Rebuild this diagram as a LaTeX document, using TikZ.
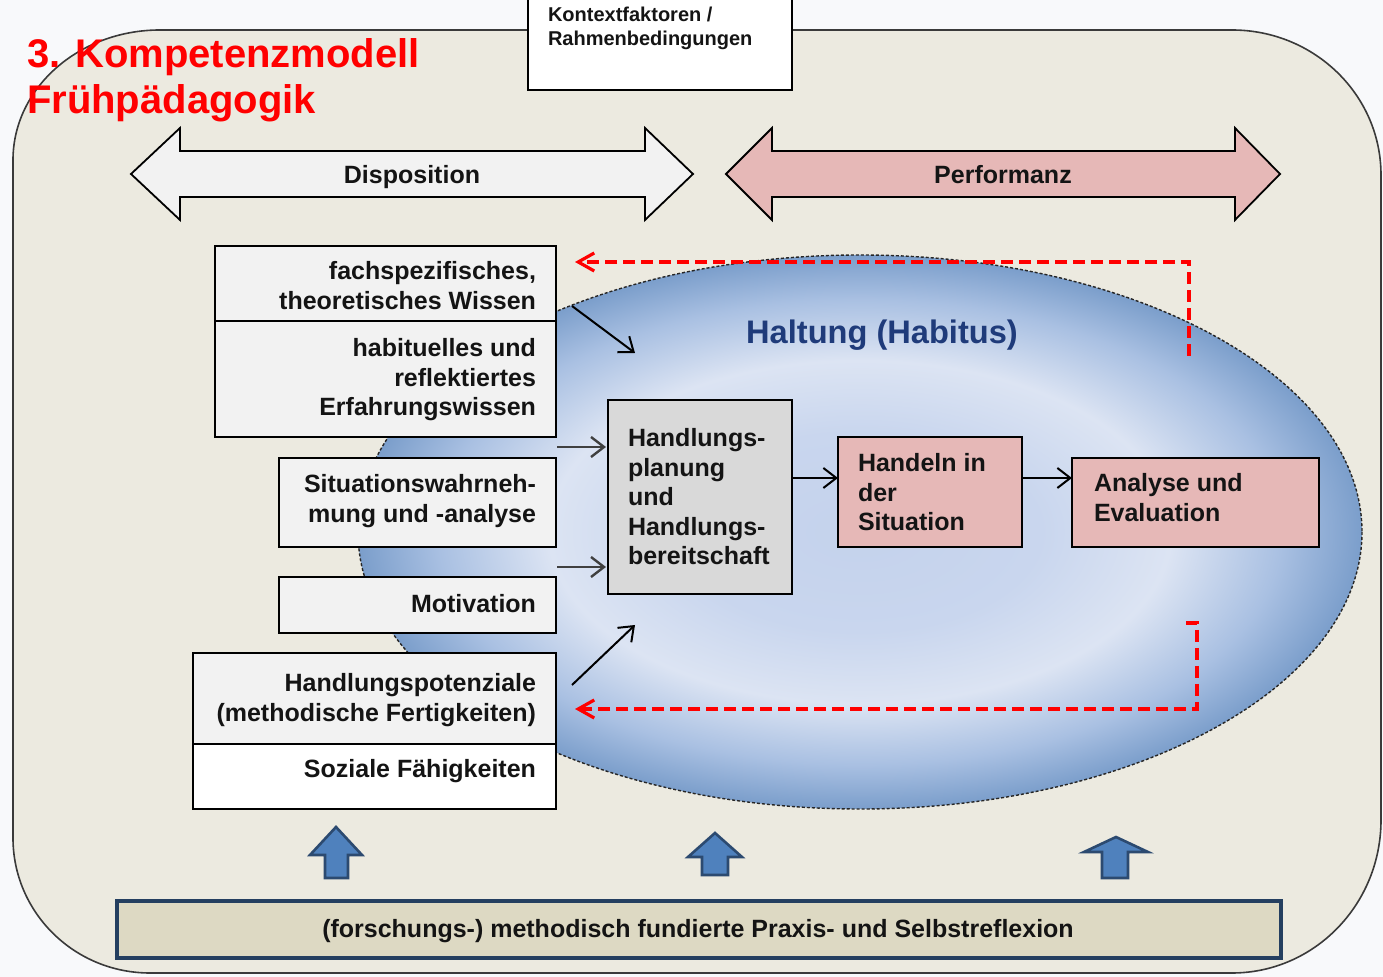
\documentclass[tikz,border=0pt]{standalone}
\usepackage{fontspec}
\setmainfont{Liberation Sans}
\usetikzlibrary{arrows.meta}

\definecolor{pagebg}{HTML}{F8F9FB}
\definecolor{panelfill}{HTML}{ECEAE0}
\definecolor{panelline}{HTML}{3A3A3A}
\definecolor{boxgray}{HTML}{F2F2F2}
\definecolor{midgray}{HTML}{D9D9D9}
\definecolor{rose}{HTML}{E6B8B7}
\definecolor{barfill}{HTML}{DDD9C3}
\definecolor{barline}{HTML}{243F60}
\definecolor{arrowblue}{HTML}{4F81BD}
\definecolor{arrowline}{HTML}{2C4A70}
\definecolor{navy}{HTML}{1F3B7A}
\definecolor{txtcol}{HTML}{141414}
\definecolor{arrgray}{HTML}{404040}
\definecolor{hcenter}{HTML}{C4D2EC}
\definecolor{hinner}{HTML}{C9D6EE}
\definecolor{hring}{HTML}{DCE4F3}
\definecolor{hmid}{HTML}{A9C0E2}
\definecolor{hdark}{HTML}{7B9ECB}

\pgfdeclareradialshading{habitus}{\pgfpoint{0bp}{0bp}}{color(0bp)=(hcenter); color(9bp)=(hinner); color(15.5bp)=(hring); color(21bp)=(hmid); color(25bp)=(hdark); color(50bp)=(hdark)}

\begin{document}
\begin{tikzpicture}[x=0.5pt,y=-0.5pt,
  every node/.style={inner sep=0pt, outer sep=0pt},
  body/.style={font=\fontsize{12.5}{14.75}\selectfont\bfseries, text=txtcol},
  lbox/.style={draw=black, line width=1pt, fill=boxgray, anchor=north west},
  dblarrow/.style={draw=black, line width=0.9pt, line join=miter},
  arr/.style={draw=black, line width=1pt, -{Straight Barb[length=6.5pt,width=10pt]}},
  garr/.style={draw=arrgray, line width=1.2pt, -{Straight Barb[length=6.5pt,width=10pt]}},
  feedback/.style={draw=red, line width=1.6pt, dash pattern=on 6pt off 3pt, -{Straight Barb[length=8pt,width=9pt]}},
  upblock/.style={fill=arrowblue, draw=arrowline, line width=1.3pt, line join=miter},
]
\useasboundingbox (0,0) rectangle (1383,977);
\fill[pagebg] (0,0) rectangle (1383,977);

% outer panel
\draw[fill=panelfill, draw=panelline, line width=0.8pt]
  (160,30) -- (1232,30)
  arc[start angle=-90, end angle=0, x radius=149, y radius=145]
  -- (1381,820)
  arc[start angle=0, end angle=90, x radius=149, y radius=153]
  -- (150,973)
  arc[start angle=90, end angle=180, x radius=137, y radius=135]
  -- (13,160)
  arc[start angle=180, end angle=270, x radius=147, y radius=130]
  -- cycle;

% context box
\node[draw=black, line width=1pt, fill=white, anchor=north west,
      minimum width=132pt, minimum height=50pt] (ctx) at (528,-10) {};
\node[font=\fontsize{10}{12}\selectfont\bfseries, text=txtcol, align=left, anchor=north west]
  (ctxt) at (548,6) {\rule{0pt}{8pt}Kontextfaktoren /\\Rahmenbedingungen};

% double arrows
\draw[dblarrow, fill=boxgray] (131,174) -- (180,128) -- (180,151) -- (645,151) -- (645,128)
  -- (693,174) -- (645,220) -- (645,197) -- (180,197) -- (180,220) -- cycle;
\node[body, anchor=base] (disp) at (412,184) {Disposition};
\draw[dblarrow, fill=rose] (726,174) -- (772,128) -- (772,151) -- (1235,151) -- (1235,128)
  -- (1280,174) -- (1235,220) -- (1235,197) -- (772,197) -- (772,220) -- cycle;
\node[body, anchor=base] (perf) at (1003,184) {Performanz};

% habitus ellipse
\path[shading=habitus] (860,532) ellipse[x radius=502, y radius=277];
\draw[draw=black!85, line width=0.7pt, dash pattern=on 1.5pt off 1pt] (860,532) ellipse[x radius=502, y radius=277];
\node[font=\fontsize{16.3}{19}\selectfont\bfseries, text=navy, anchor=base] (halt) at (882,344) {Haltung (Habitus)};

% title
\node[font=\fontsize{20}{23}\selectfont\bfseries, text=red, align=left, anchor=north west]
  (title) at (27,38) {\rule{0pt}{15pt}3. Kompetenzmodell\\Frühpädagogik};

% feedback arrows
\coordinate (r1s) at (1189,356);
\coordinate (r1e) at (575,262);
\draw[feedback] (r1s) |- (r1e);
\coordinate (r2s) at (1186,623);
\coordinate (r2c) at (1197,623);
\coordinate (r2e) at (575,709);
\draw[feedback] (r2s) -- (r2c) |- (r2e);

% left boxes
\node[lbox, minimum width=170.5pt, minimum height=37.5pt] (b1) at (215,246) {};
\node[lbox, minimum width=170.5pt, minimum height=58pt] (b2) at (215,321) {};
\node[lbox, minimum width=138.5pt, minimum height=44.5pt] (b3) at (279,458) {};
\node[lbox, minimum width=138.5pt, minimum height=28pt] (b4) at (279,577) {};
\node[lbox, minimum width=181.5pt, minimum height=45.5pt] (b5) at (193,653) {};
\node[lbox, fill=white, minimum width=181.5pt, minimum height=32.5pt] (b6) at (193,744) {};

\node[body, align=right, anchor=north east] (t1) at (536,260) {\rule{0pt}{10pt}fachspezifisches,\\theoretisches Wissen};
\node[body, align=right, anchor=north east] (t2) at (536,337) {\rule{0pt}{10pt}habituelles und\\reflektiertes\\Erfahrungswissen};
\node[body, align=right, anchor=north east] (t3) at (536,473) {\rule{0pt}{10pt}Situationswahrneh-\\mung und -analyse};
\node[body, anchor=base east] (t4) at (536,613) {Motivation};
\node[body, align=right, anchor=north east] (t5) at (536,672) {\rule{0pt}{10pt}Handlungspotenziale\\(methodische Fertigkeiten)};
\node[body, anchor=base east] (t6) at (536,778) {Soziale Fähigkeiten};

% process boxes
\node[lbox, fill=midgray, minimum width=92pt, minimum height=97pt] (hp) at (608,400) {};
\node[body, align=left, anchor=north west] (hpt) at (628,427) {\rule{0pt}{10pt}Handlungs-\\planung\\und\\Handlungs-\\bereitschaft};
\node[lbox, fill=rose, minimum width=92pt, minimum height=55pt] (hs) at (838,437) {};
\node[body, align=left, anchor=north west] (hst) at (858,452) {\rule{0pt}{10pt}Handeln in\\der\\Situation};
\node[lbox, fill=rose, minimum width=123.5pt, minimum height=44.5pt] (ae) at (1072,458) {};
\node[body, align=left, anchor=north west] (aet) at (1094,472) {\rule{0pt}{10pt}Analyse und\\Evaluation};

% connectors
\coordinate (d1s) at (572,306);
\coordinate (d1e) at (635,353);
\draw[arr] (d1s) -- (d1e);
\coordinate (g1) at (557,447);
\draw[garr] (g1) -- ([xshift=-1pt]g1 -| hp.west);
\coordinate (g2) at (557,567);
\draw[garr] (g2) -- ([xshift=-1pt]g2 -| hp.west);
\coordinate (d2s) at (572,685);
\coordinate (d2e) at (635,625);
\draw[arr] (d2s) -- (d2e);
\coordinate (hline) at (700,478);
\draw[arr] (hp.east |- hline) -- (hs.west |- hline);
\draw[arr] (hs.east |- hline) -- (ae.west |- hline);

% blue up arrows
\draw[upblock] (336,827) -- (362,855) -- (348,855) -- (348,878) -- (325,878) -- (325,855) -- (310,855) -- cycle;
\draw[upblock] (715,833) -- (742,857) -- (728,857) -- (728,875) -- (702,875) -- (702,857) -- (688,857) -- cycle;
\draw[upblock] (1116,837) -- (1148,852) -- (1128,852) -- (1128,878) -- (1102,878) -- (1102,852) -- (1084,852) -- cycle;

% bottom bar
\node[draw=barline, line width=2pt, fill=barfill, anchor=north west,
      minimum width=582pt, minimum height=28.5pt] (bar) at (117,901) {};
\node[body, anchor=base] (bart) at (698,938) {(forschungs-) methodisch fundierte Praxis- und Selbstreflexion};
\end{tikzpicture}
\end{document}
